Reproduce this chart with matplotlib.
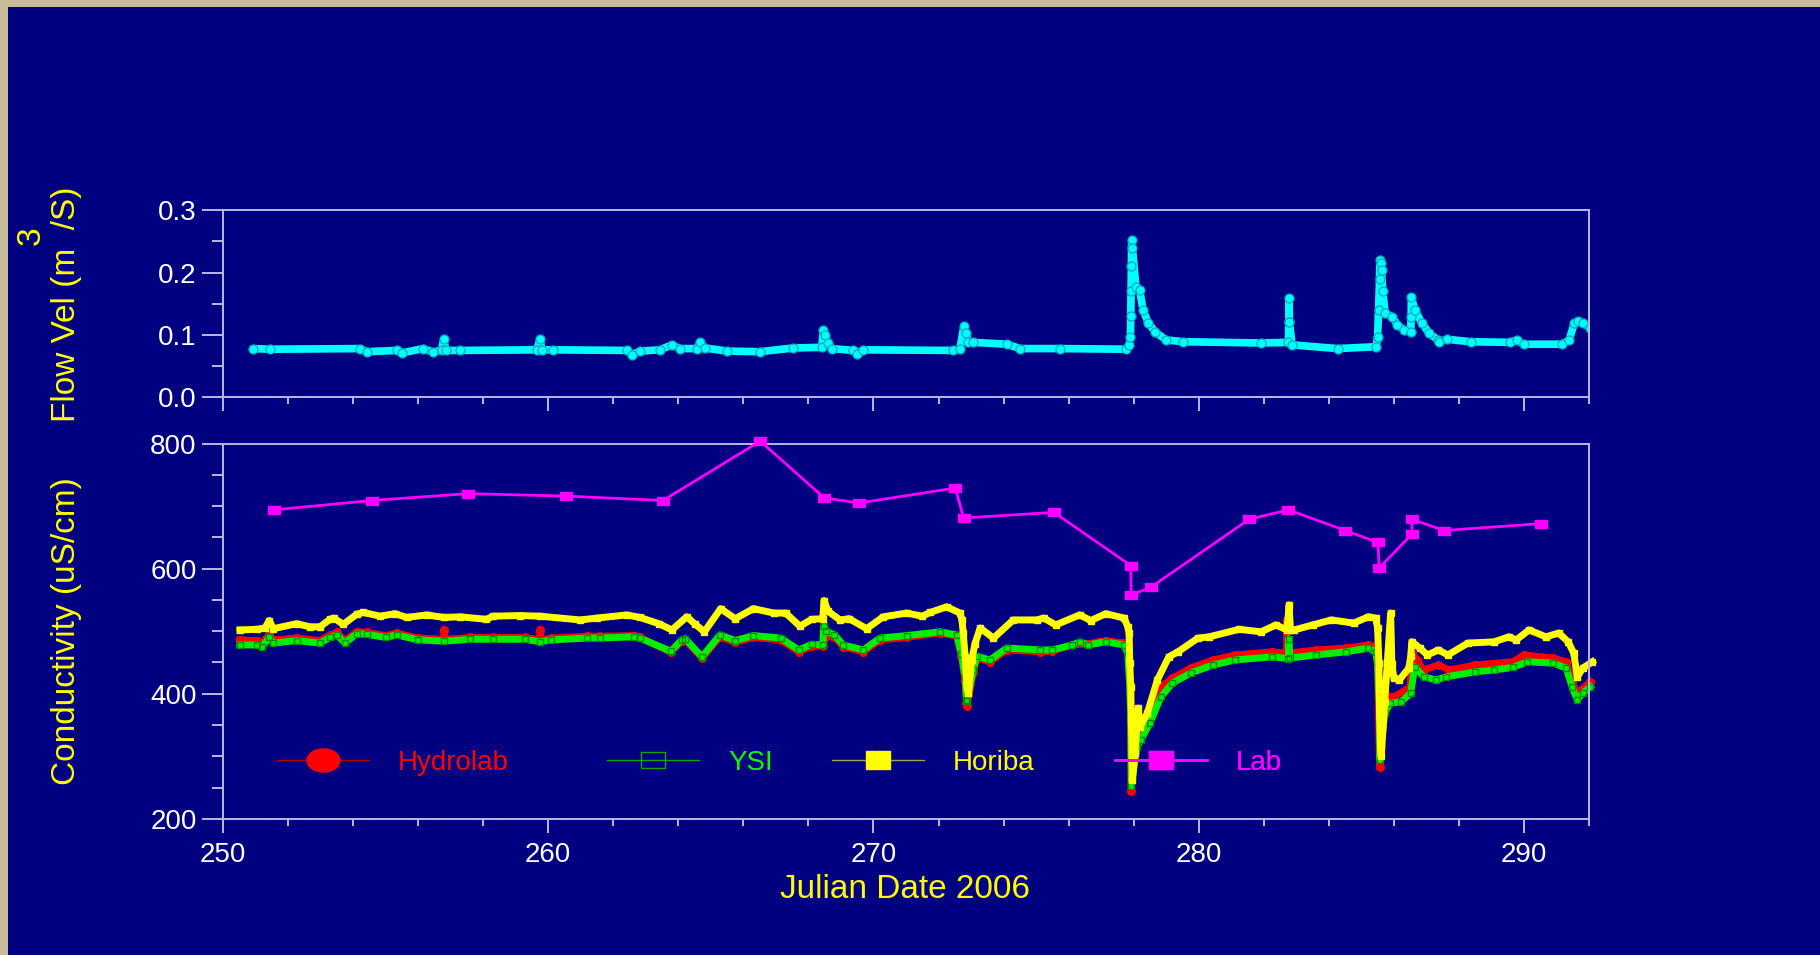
import matplotlib
matplotlib.use('Agg')
import matplotlib.pyplot as plt
import numpy as np
from matplotlib.path import Path
from matplotlib.transforms import Affine2D
from matplotlib.lines import Line2D
from matplotlib.patches import Rectangle
from matplotlib.ticker import MultipleLocator, FormatStrFormatter

plt.rcParams['font.family'] = ['Liberation Sans', 'DejaVu Sans']

# flow velocity (m3/s), Julian day
flow_day = [250.93, 251.45, 254.21, 254.42, 255.34, 255.49, 256.16, 256.47, 256.72, 256.79,
            256.85, 257.29, 259.65, 259.75, 259.80, 260.16, 262.41, 262.57, 262.82, 263.44,
            263.80, 264.05, 264.57, 264.67, 264.82, 265.49, 266.51, 267.54, 268.41, 268.46,
            268.51, 268.61, 268.72, 269.38, 269.48, 269.69, 272.46, 272.66, 272.78, 272.85,
            272.92, 273.07, 274.10, 274.51, 275.74, 277.75, 277.86, 277.90, 277.91, 277.92,
            277.93, 277.94, 277.96, 278.07, 278.18, 278.29, 278.45, 278.66, 278.99, 279.53,
            281.90, 282.76, 282.77, 282.78, 282.79, 282.87, 284.27, 285.46, 285.50, 285.53,
            285.56, 285.57, 285.60, 285.62, 285.66, 285.73, 285.95, 286.11, 286.32, 286.52,
            286.53, 286.54, 286.65, 286.86, 287.08, 287.35, 287.40, 287.62, 288.37, 289.56,
            289.78, 289.99, 291.18, 291.39, 291.55, 291.66, 291.82, 292.04]
flow_val = [0.078, 0.077, 0.078, 0.073, 0.075, 0.071, 0.078, 0.072, 0.076, 0.093,
            0.075, 0.075, 0.076, 0.094, 0.076, 0.076, 0.075, 0.068, 0.074, 0.076,
            0.084, 0.078, 0.078, 0.088, 0.079, 0.074, 0.073, 0.079, 0.080, 0.108,
            0.100, 0.087, 0.078, 0.075, 0.070, 0.076, 0.075, 0.078, 0.114, 0.103,
            0.089, 0.088, 0.085, 0.078, 0.078, 0.077, 0.084, 0.097, 0.130, 0.170,
            0.210, 0.252, 0.240, 0.177, 0.172, 0.140, 0.119, 0.105, 0.092, 0.089,
            0.087, 0.088, 0.120, 0.159, 0.120, 0.084, 0.078, 0.081, 0.097, 0.140,
            0.190, 0.220, 0.215, 0.204, 0.170, 0.135, 0.129, 0.116, 0.108, 0.104,
            0.128, 0.160, 0.140, 0.119, 0.103, 0.092, 0.089, 0.093, 0.089, 0.088,
            0.092, 0.085, 0.085, 0.092, 0.119, 0.122, 0.119, 0.111]

# conductivity (uS/cm)
hydro_day = [250.52, 251.04, 251.20, 251.42, 251.55, 252.26, 252.98, 253.29, 253.50, 253.75,
             254.11, 254.42, 255.00, 255.34, 256.00, 256.78, 256.80, 256.82, 257.60, 258.30,
             259.30, 259.73, 259.75, 259.77, 260.10, 261.20, 261.60, 262.64, 262.82, 263.77,
             264.10, 264.21, 264.73, 265.28, 265.75, 266.31, 267.15, 267.70, 268.10, 268.44,
             268.55, 268.80, 269.07, 269.69, 270.20, 271.02, 272.05, 272.56, 272.70, 272.82,
             272.86, 272.88, 273.07, 273.18, 273.58, 274.10, 275.12, 275.50, 276.11, 276.60,
             277.14, 277.70, 277.82, 277.88, 277.91, 277.92, 278.10, 278.50, 278.84, 279.19,
             279.75, 280.44, 281.12, 282.26, 282.70, 282.71, 282.74, 283.62, 284.53, 285.22,
             285.44, 285.50, 285.56, 285.72, 286.00, 286.36, 286.50, 286.55, 286.70, 286.92,
             287.37, 287.70, 288.51, 289.65, 290.00, 290.90, 291.30, 291.48, 291.60, 291.81,
             292.04]
hydro_val = [486, 485, 482, 494, 486, 489, 485, 494, 498, 485,
             499, 498, 493, 497, 489, 487, 502, 487, 490, 490,
             490, 486, 502, 486, 489, 492, 492, 493, 490, 466,
             484, 486, 457, 491, 482, 490, 486, 467, 476, 476,
             492, 491, 475, 467, 486, 490, 497, 492, 460, 420,
             385, 380, 435, 457, 451, 470, 467, 468, 478, 480,
             485, 481, 470, 416, 347, 245, 330, 363, 411, 425,
             441, 454, 462, 467, 465, 518, 465, 470, 473, 478,
             475, 443, 283, 398, 395, 406, 410, 465, 454, 438,
             446, 438, 446, 451, 462, 457, 451, 422, 401, 408,
             419]

ysi_day = [250.52, 251.04, 251.20, 251.42, 251.55, 252.26, 252.98, 253.29, 253.50, 253.75,
           254.11, 254.42, 255.00, 255.34, 256.00, 256.80, 257.60, 258.30, 259.30, 259.75,
           260.10, 261.20, 261.60, 262.64, 262.82, 263.77, 264.10, 264.21, 264.73, 265.28,
           265.75, 266.31, 267.15, 267.70, 268.10, 268.44, 268.47, 268.55, 268.80, 269.07,
           269.69, 270.20, 271.02, 272.05, 272.56, 272.70, 272.82, 272.86, 272.87, 273.07,
           273.18, 273.58, 274.10, 275.12, 275.50, 276.11, 276.35, 276.60, 277.14, 277.70,
           277.82, 277.88, 277.91, 277.93, 278.10, 278.22, 278.50, 278.84, 279.19, 279.75,
           280.44, 281.12, 282.26, 282.76, 282.77, 282.80, 283.62, 284.53, 285.22, 285.44,
           285.50, 285.56, 285.57, 285.72, 285.89, 286.22, 286.52, 286.64, 286.92, 287.30,
           287.60, 288.51, 289.08, 289.65, 290.10, 290.90, 291.30, 291.48, 291.64, 291.81,
           292.04]
ysi_val = [478, 478, 475, 490, 481, 485, 481, 490, 494, 481,
           496, 495, 490, 494, 486, 484, 487, 487, 487, 483,
           486, 489, 489, 491, 489, 468, 486, 488, 459, 494,
           485, 493, 489, 470, 479, 478, 508, 500, 494, 478,
           470, 489, 493, 499, 494, 464, 427, 390, 388, 438,
           460, 454, 473, 470, 470, 478, 483, 478, 483, 478,
           465, 411, 369, 252, 315, 326, 353, 395, 417, 433,
           446, 454, 459, 456, 488, 457, 462, 467, 473, 467,
           449, 369, 294, 369, 385, 387, 401, 443, 427, 422,
           427, 435, 438, 442, 451, 449, 441, 411, 390, 401,
           411]

hori_day = [250.52, 251.04, 251.29, 251.42, 251.55, 252.26, 252.68, 252.98, 253.29, 253.40,
            253.70, 254.11, 254.31, 254.83, 255.29, 255.65, 256.26, 256.80, 257.29, 258.10,
            258.30, 259.13, 259.75, 260.98, 261.50, 262.41, 262.82, 263.40, 263.80, 264.26,
            264.50, 264.80, 265.30, 265.75, 266.31, 266.94, 267.30, 267.74, 268.10, 268.44,
            268.48, 268.60, 268.97, 269.25, 269.79, 270.30, 271.02, 271.50, 271.74, 272.25,
            272.66, 272.72, 272.76, 272.82, 272.87, 272.92, 273.02, 273.12, 273.28, 273.69,
            274.30, 275.02, 275.24, 275.60, 276.34, 276.68, 277.14, 277.71, 277.82, 277.86,
            277.88, 277.91, 277.93, 277.95, 277.96, 278.04, 278.14, 278.20, 278.42, 278.73,
            279.08, 279.36, 279.98, 280.32, 281.24, 281.92, 282.37, 282.71, 282.78, 282.82,
            282.94, 283.50, 284.08, 284.76, 285.22, 285.44, 285.50, 285.54, 285.56, 285.59,
            285.61, 285.72, 285.80, 285.90, 285.94, 286.00, 286.17, 286.46, 286.52, 286.55,
            286.80, 287.03, 287.37, 287.66, 288.28, 289.08, 289.54, 289.76, 290.16, 290.67,
            291.07, 291.36, 291.53, 291.64, 291.81, 292.10]
hori_val = [502, 503, 505, 517, 504, 512, 507, 507, 519, 521,
            511, 527, 530, 524, 528, 522, 526, 522, 523, 519,
            524, 525, 524, 518, 521, 526, 522, 512, 502, 523,
            512, 499, 536, 520, 536, 529, 529, 508, 519, 520,
            549, 532, 518, 520, 504, 523, 529, 524, 530, 539,
            529, 518, 497, 459, 411, 401, 454, 480, 505, 489,
            518, 518, 521, 510, 526, 517, 528, 521, 507, 497,
            449, 411, 358, 305, 262, 305, 377, 347, 369, 422,
            459, 467, 489, 491, 503, 499, 510, 502, 542, 502,
            502, 510, 518, 513, 523, 521, 505, 449, 369, 315,
            300, 387, 451, 529, 447, 425, 422, 441, 460, 483,
            473, 462, 470, 462, 481, 483, 491, 486, 502, 491,
            497, 483, 465, 427, 441, 451]

lab_day = [251.57, 254.57, 257.53, 260.56, 263.53, 266.52, 268.49, 269.56, 272.52, 272.77,
           275.55, 277.91, 277.92, 278.52, 281.55, 282.76, 284.51, 285.51, 285.55, 286.55,
           286.56, 287.54, 290.51]
lab_val = [694, 709, 720, 716, 709, 804, 713, 705, 729, 681,
           690, 605, 558, 570, 679, 694, 661, 642, 601, 655,
           679, 661, 672]

navy = '#000080'
frame_col = '#B8B8E6'

# squashed marker shapes
wide_box = Path([(-0.7, -0.5), (0.7, -0.5), (0.7, 0.5), (-0.7, 0.5), (-0.7, -0.5)], closed=True)
wide_dot = Path.unit_circle().transformed(Affine2D().scale(1.43, 1.0))

fig = plt.figure(figsize=(18.2, 9.55), dpi=100, facecolor='#C8BC9A')
fig.add_artist(Rectangle((8 / 1820, 0), 1, 1 - 7 / 955, transform=fig.transFigure,
                         facecolor=navy, edgecolor='none', zorder=-10))

ax1 = fig.add_axes([0.12253, 0.58408, 0.75055, 0.19581])
ax2 = fig.add_axes([0.12253, 0.14262, 0.75055, 0.39288])

for ax in (ax1, ax2):
    ax.set_facecolor(navy)
    for s in ax.spines.values():
        s.set_color(frame_col)
        s.set_linewidth(1.4)
    ax.set_xlim(250, 292)
    ax.xaxis.set_major_locator(MultipleLocator(10))
    ax.xaxis.set_minor_locator(MultipleLocator(2))
    ax.tick_params(axis='x', which='major', length=10, width=1.4, color=frame_col,
                   labelcolor='white', labelsize=20, pad=7)
    ax.tick_params(axis='x', which='minor', length=5, width=1.4, color=frame_col)
    ax.tick_params(axis='y', which='major', length=15, width=1.4, color=frame_col,
                   labelcolor='white', labelsize=20, pad=4)
    ax.tick_params(axis='y', which='minor', length=8, width=1.4, color=frame_col)

ax1.set_ylim(0, 0.3)
ax1.yaxis.set_major_locator(MultipleLocator(0.1))
ax1.yaxis.set_minor_locator(MultipleLocator(0.05))
ax1.yaxis.set_major_formatter(FormatStrFormatter('%.1f'))
ax1.tick_params(axis='x', labelbottom=False)

ax2.set_ylim(200, 800)
ax2.yaxis.set_major_locator(MultipleLocator(200))
ax2.yaxis.set_minor_locator(MultipleLocator(50))

# flow record
ax1.plot(flow_day, flow_val, color='#00FFFF', linewidth=5.5, marker='o', markersize=6.5,
         markerfacecolor='#00FFFF', markeredgecolor='#00A8B8', markeredgewidth=0.9,
         solid_capstyle='round', solid_joinstyle='round')

# probe records
ax2.plot(hydro_day, hydro_val, color='#FF0000', linewidth=5, marker='o', markersize=5.5,
         markeredgecolor='#FF0000', clip_on=False, solid_joinstyle='round')
ax2.plot(ysi_day, ysi_val, color='#00EE00', linewidth=5, marker='s', markersize=4.5,
         markerfacecolor='none', markeredgecolor='#009000', clip_on=False, solid_joinstyle='round')
ax2.plot(hori_day, hori_val, color='#FFFF00', linewidth=5, marker='s', markersize=4.5,
         markeredgecolor='#FFFF00', clip_on=False, solid_joinstyle='round')
ax2.plot(lab_day, lab_val, color='#FF00FF', linewidth=2, marker=wide_box, markersize=8.5,
         markeredgecolor='#FF00FF', clip_on=False, zorder=4)

# legend, one entry at a time
entries = [
    (Line2D([], [], color='#B00000', lw=1, marker=wide_dot, markersize=23.8,
            markerfacecolor='#FF0000', markeredgecolor='#FF0000'), 'Hydrolab', '#FF0000', 0.0395),
    (Line2D([], [], color='#10A010', lw=1, marker=wide_box, markersize=16.6,
            markerfacecolor='none', markeredgecolor='#10A010'), 'YSI', '#00FF00', 0.281),
    (Line2D([], [], color='#A8A050', lw=1, marker=wide_box, markersize=17.3,
            markerfacecolor='#FFFF00', markeredgecolor='#FFFF00'), 'Horiba', '#FFFF00', 0.4458),
    (Line2D([], [], color='#FF00FF', lw=2, marker=wide_box, markersize=17.3,
            markerfacecolor='#FF00FF', markeredgecolor='#FF00FF'), 'Lab', '#FF00FF', 0.653),
]
for h, name, col, xpos in entries:
    leg = ax2.legend(handles=[h], labels=[name], loc='center left', bbox_to_anchor=(xpos, 0.1487),
                     frameon=False, borderpad=0, borderaxespad=0, handlelength=3.31,
                     handletextpad=1.05, numpoints=1, fontsize=20, labelcolor=col)
    ax2.add_artist(leg)

# axis titles
fig.text(67 / 1820, 1 - 304 / 955, 'Flow Vel (m  /S)', rotation=90, ha='center', va='center',
         fontsize=24, color='yellow')
fig.text(31 / 1820, 1 - 236 / 955, '3', rotation=90, ha='center', va='center',
         fontsize=24, color='yellow')
fig.text(67 / 1820, 1 - 631 / 955, 'Conductivity (uS/cm)', rotation=90, ha='center', va='center',
         fontsize=24, color='yellow')
fig.text(905 / 1820, 1 - 889 / 955, 'Julian Date 2006', ha='center', va='center',
         fontsize=24, color='yellow')

fig.savefig('out.png', dpi=100, facecolor=fig.get_facecolor())
